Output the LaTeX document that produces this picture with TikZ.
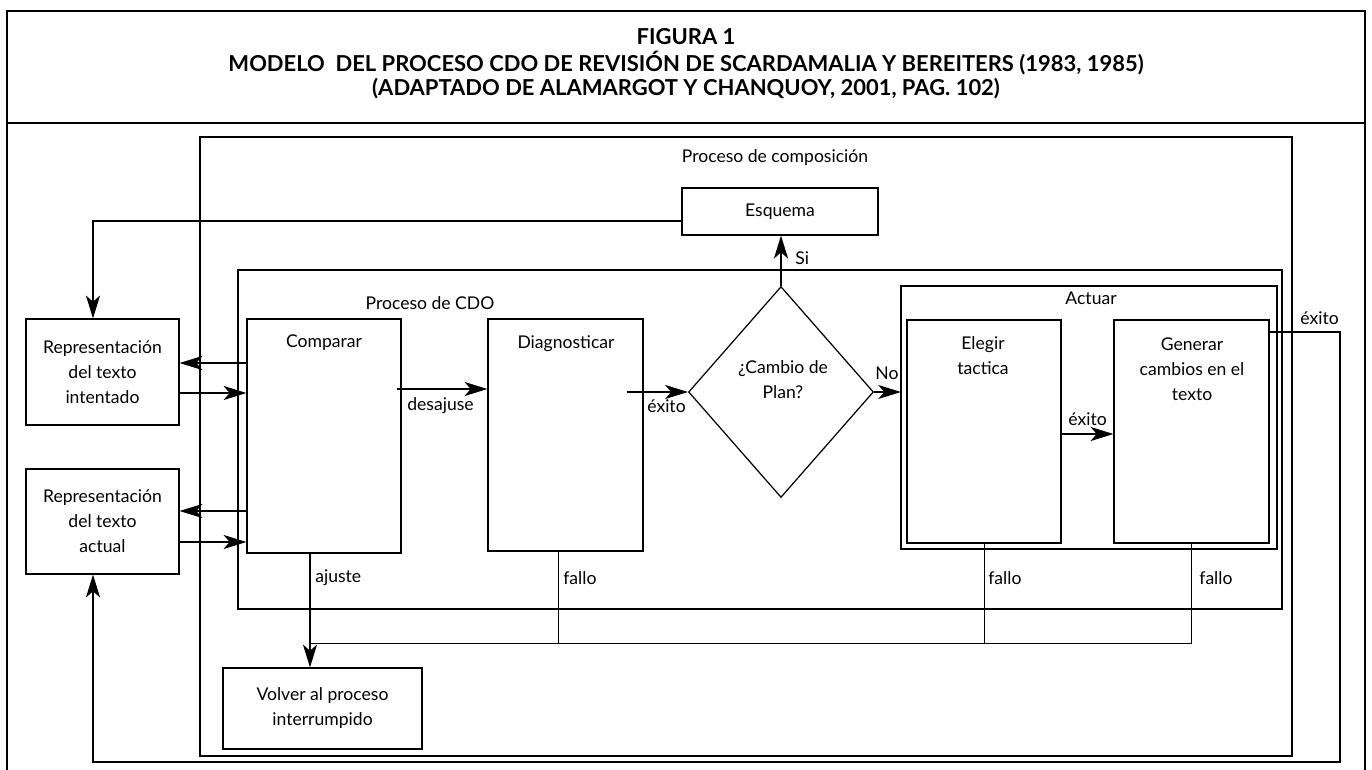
\documentclass[tikz,border=0pt]{standalone}
\usepackage{fontspec}
\setmainfont{Lato}
\usetikzlibrary{shapes.geometric,arrows.meta,fit}

\tikzset{
  box/.style={draw, line width=0.7pt, inner sep=0pt},
  pframe/.style={draw, line width=0.7pt},
  txt/.style={inner sep=0pt, align=center, font=\fontsize{10}{14.2}\selectfont},
  lbl/.style={inner sep=0pt, anchor=west, font=\fontsize{10}{12}\selectfont},
  arr/.style={line width=0.7pt, -{Stealth[length=13pt,width=8pt,inset=3.5pt]}},
  ttl/.style={inner sep=0pt, font=\fontsize{12.5}{14}\selectfont\bfseries},
}

\begin{document}
\begin{tikzpicture}[x=0.02cm, y=-0.02cm]
  \useasboundingbox (0,0) rectangle (1372,770);

  % outer frame and heading
  \draw[line width=1.3pt] (7,770) -- (7,11) -- (1365,11) -- (1365,770);
  \draw[line width=1.3pt] (7,123) -- (1365,123);
  \node[ttl] (t1) at (686,37) {FIGURA 1};
  \node[ttl] (t2) at (686,63) {MODELO\ \ DEL PROCESO CDO DE REVISIÓN DE SCARDAMALIA Y BEREITERS (1983, 1985)};
  \node[ttl] (t3) at (686,89) {(ADAPTADO DE ALAMARGOT Y CHANQUOY, 2001, PAG. 102)};

  % frames
  \draw[pframe] (200,137) rectangle (1292,756);
  \node[txt] (tcomp) at (775,158) {Proceso de composición};
  \draw[pframe] (238,270) rectangle (1282,609);
  \node[txt] (tcdo) at (430,303) {Proceso de CDO};
  \draw[pframe] (901,286) rectangle (1277,549);
  \node[txt] (tact) at (1091,298) {Actuar};

  % boxes
  \node[box, txt, minimum width=3.92cm, minimum height=0.94cm] (esq) at (780,211.5) {Esquema};
  \node[box, txt, minimum width=3.06cm, minimum height=2.12cm] (rep1) at (102.5,372) {Representación\\del texto\\intentado};
  \node[box, txt, minimum width=3.06cm, minimum height=2.1cm] (rep2) at (102.5,521.5) {Representación\\del texto\\actual};
  \node[box, txt, minimum width=3.98cm, minimum height=1.62cm] (volv) at (322.5,708.5) {Volver al proceso\\interrumpido};

  \node[box, fit={(247,319) (401,553)}] (cmp) {};
  \node[txt] (tcmp) at (324,343) {Comparar};
  \node[box, fit={(488,319) (643,551)}] (diag) {};
  \node[txt] (tdiag) at (566,344) {Diagnosticar};
  \node[box, fit={(907,320) (1061,543)}] (eleg) {};
  \node[txt] (teleg) at (983,356) {Elegir\\tactica};
  \node[box, fit={(1114,320) (1269,543)}] (gen) {};
  \node[txt] (tgen) at (1192,369) {Generar\\cambios en el\\texto};

  \node[draw, diamond, line width=0.7pt, inner sep=0pt, minimum width=3.7cm, minimum height=4.22cm] (dia) at (781,392) {};
  \node[txt] (tdia) at (783,380) {¿Cambio de\\Plan?};

  % connectors
  \draw[arr] (esq.west |- 0,221) -| (rep1.north -| 93,0);
  \draw[arr, line width=1.3pt] (dia.north) -- (dia.north |- esq.south);
  \node[lbl] (lsi) at (795,258) {Si};

  \draw[arr] (cmp.west |- 0,363) -- (rep1.east |- 0,363);
  \draw[arr] (rep1.east |- 0,393) -- (cmp.west |- 0,393);
  \draw[arr] (cmp.west |- 0,511) -- (rep2.east |- 0,511);
  \draw[arr] (rep2.east |- 0,542) -- (cmp.west |- 0,542);

  \draw[arr] ([xshift=-0.1cm]cmp.east |- 0,389) -- (diag.west |- 0,389);
  \node[lbl] (ldes) at (407,406) {desajuse};
  \draw[arr] ([xshift=-0.34cm]diag.east |- dia.west) -- (dia.west);
  \node[lbl] (lex1) at (647,406) {éxito};
  \draw[arr] (dia.east) -- (dia.east -| 901,0);
  \node[lbl] (lno) at (875,373) {No};
  \draw[arr] (eleg.east |- 0,434) -- (gen.west |- 0,434);
  \node[lbl] (lex2) at (1068,419) {éxito};

  \draw[arr] (gen.east |- 0,332) -| (1340,762) -| (rep2.south -| 93,0);
  \node[lbl] (lex3) at (1300,318) {éxito};

  % fallos
  \coordinate (joint) at (310,643);
  \draw[arr] (cmp.south -| 310,0) -- (volv.north -| 310,0);
  \node[lbl] (laj) at (315,578) {ajuste};
  \draw (gen.south) |- (joint);
  \draw (eleg.south) -- (eleg.south |- joint);
  \draw (diag.south -| 558,0) -- (joint -| 558,0);
  \node[lbl] (lf1) at (563,578) {fallo};
  \node[lbl] (lf2) at (988,578) {fallo};
  \node[lbl] (lf3) at (1199,578) {fallo};
\end{tikzpicture}
\end{document}
